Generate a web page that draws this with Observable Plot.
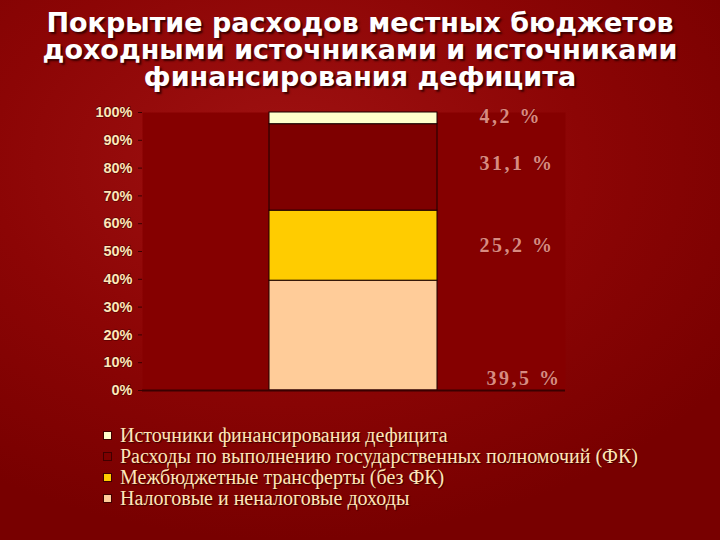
<!DOCTYPE html>
<html><head><meta charset="utf-8">
<script src="https://cdn.jsdelivr.net/npm/d3@7"></script>
<script src="https://cdn.jsdelivr.net/npm/@observablehq/plot@0.6"></script>
<style>
html,body{margin:0;padding:0;}
body{width:720px;height:540px;overflow:hidden;
 background:radial-gradient(ellipse 75% 70% at 40% 30%, #a01212 0%, #8c0505 55%, #780000 100%);
 font-family:"Liberation Sans",Arial,sans-serif;}
#title{height:100px;box-sizing:border-box;padding-top:9px;text-align:center;color:#fff;
 font-family:"DejaVu Sans",sans-serif;font-weight:bold;font-size:27px;line-height:27px;text-shadow:2px 2px 2px #3a0000;}
#chart{height:310px;}
#legend{padding-left:103px;padding-top:15px;font-family:"Liberation Serif","Times New Roman",serif;
 font-size:20px;line-height:21px;color:#ffe6b8;text-shadow:1px 1px 1px #3a0000;}
#legend .row{display:flex;align-items:center;height:21px;}
#legend .sw{width:9px;height:9px;margin-right:8px;border:1px solid #400000;box-sizing:border-box;}
</style></head>
<body>
<div id="title">Покрытие расходов местных бюджетов<br>доходными источниками и источниками<br>финансирования дефицита</div>
<div id="chart"></div>
<div id="legend"></div>
<script>
const category = ["2010"];
const seriesNames = [
  "Налоговые и неналоговые доходы",
  "Межбюджетные трансферты (без ФК)",
  "Расходы по выполнению государственных полномочий (ФК)",
  "Источники финансирования дефицита"
];
const seriesValues = [39.5, 25.2, 31.1, 4.2];
const valueLabels = ["39,5 %", "25,2 %", "31,1 %", "4,2 %"];
const seriesColors = ["#ffcc99", "#ffcc00", "#7e0000", "#ffffcc"];
const yTicks = [0,10,20,30,40,50,60,70,80,90,100];
const legendOrder = [3,2,1,0];

let acc = 0;
const data = seriesNames.map((s,i) => {
  const lo = acc; acc += seriesValues[i];
  return {cat: category[0], series: s, value: seriesValues[i], label: valueLabels[i], mid: (lo + acc) / 2};
});
// label offsets (style, px) relative to segment middle
const labelDy = [43, 0, -4, -2];
const labelDx = [133, 126, 126, 126];

const textMarks = data.map((d,i) => Plot.text([d], {
  x: "cat", y: "mid", text: "label",
  textAnchor: "start", dx: labelDx[i], dy: labelDy[i],
  fill: "#d98a80", fontSize: 20, fontWeight: "bold", fontFamily: "Liberation Serif, Times New Roman, serif",
  stroke: "#5a0000", strokeWidth: 0.5, paintOrder: "stroke", className: "vlabel"
}));

const chart = Plot.plot({
  width: 720, height: 310,
  marginTop: 12, marginBottom: 20, marginLeft: 142, marginRight: 155,
  style: {background: "transparent", overflow: "visible"},
  x: {domain: category, padding: 0.43, axis: null},
  y: {domain: [0,100], ticks: yTicks, tickFormat: d => d + "%", label: null, axis: null},
  color: {domain: seriesNames, range: seriesColors},
  marks: [
    Plot.frame({fill: "#850000", stroke: null}),
    Plot.barY(data, {x: "cat", y: "value", fill: "series", stroke: "#1a0000", strokeWidth: 1}),
    Plot.axisY({ticks: yTicks, tickFormat: d => d + "%", tickSize: 4, tickPadding: 6,
      stroke: "#3a0000", fill: "#ffe6b8", fontSize: 14.5, fontWeight: "bold",
      fontFamily: "Liberation Sans, Arial, sans-serif", label: null,
      textStroke: "#3a0000", textStrokeWidth: 1.5, textStrokeOpacity: 0.6}),
    Plot.ruleX([0], {x: () => null, frameAnchor: "left", stroke: "#3a0000", strokeWidth: 2}),
    Plot.ruleY([0], {stroke: "#3a0000", strokeWidth: 2}),
    ...textMarks
  ]
});
chart.querySelectorAll("g[aria-label='text']").forEach(g => g.style.letterSpacing = "2.5px");
document.getElementById("chart").appendChild(chart);

const leg = document.getElementById("legend");
legendOrder.forEach(i => {
  const row = document.createElement("div"); row.className = "row";
  const sw = document.createElement("span"); sw.className = "sw"; sw.style.background = seriesColors[i];
  const tx = document.createElement("span"); tx.textContent = seriesNames[i];
  row.appendChild(sw); row.appendChild(tx); leg.appendChild(row);
});
</script>
</body></html>
